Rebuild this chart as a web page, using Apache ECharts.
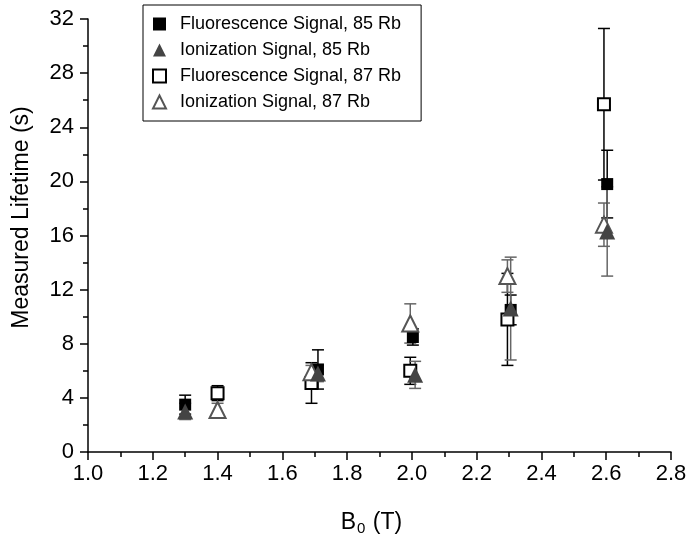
<!DOCTYPE html>
<html>
<head>
<meta charset="utf-8">
<script src="https://cdn.jsdelivr.net/npm/echarts@6/dist/echarts.min.js"></script>
<style>
  html, body { margin: 0; padding: 0; background: #fff; }
  #chart-container { width: 688px; height: 537px; }
</style>
</head>
<body>
<div id="chart-container"></div>
<script>
// [B0, lifetime, error]
var fluor85 = [[1.30, 3.5, 0.7], [1.71, 6.1, 1.45], [2.003, 8.5, 0.6], [2.305, 10.5, 1.1], [2.603, 19.8, 2.5]];
var ioniz85 = [[1.30, 3.0, 0.6], [1.71, 5.8, 0.6], [2.01, 5.7, 1.0], [2.305, 10.6, 3.8], [2.603, 16.3, 3.3]];
var fluor87 = [[1.40, 4.35, 0.55], [1.69, 5.1, 1.5], [1.995, 6.0, 1.0], [2.295, 9.8, 3.4], [2.593, 25.7, 5.6]];
var ioniz87 = [[1.40, 3.1, 0.5], [1.69, 5.9, 0.5], [1.995, 9.5, 1.45], [2.295, 13.0, 1.2], [2.593, 16.8, 1.6]];
var seriesNames = ["Fluorescence Signal, 85 Rb", "Ionization Signal, 85 Rb",
                   "Fluorescence Signal, 87 Rb", "Ionization Signal, 87 Rb"];

var dom = document.getElementById("chart-container");
var myChart = echarts.init(dom, null, { renderer: "canvas" });

function errorBars(data, color, z) {
  return {
    type: "custom",
    data: data,
    z: z,
    silent: true,
    renderItem: function (params, api) {
      var x = api.value(0), y = api.value(1), e = api.value(2);
      var top = api.coord([x, y + e]);
      var bot = api.coord([x, y - e]);
      var hw = 6;
      var st = { stroke: color, lineWidth: 1.5 };
      return {
        type: "group",
        children: [
          { type: "line", shape: { x1: top[0], y1: top[1], x2: bot[0], y2: bot[1] }, style: st },
          { type: "line", shape: { x1: top[0] - hw, y1: top[1], x2: top[0] + hw, y2: top[1] }, style: st },
          { type: "line", shape: { x1: bot[0] - hw, y1: bot[1], x2: bot[0] + hw, y2: bot[1] }, style: st }
        ]
      };
    }
  };
}

var option = {
  animation: false,
  backgroundColor: "#fff",
  grid: { left: 88, right: 17, top: 19, bottom: 85, containLabel: false, outerBoundsMode: "none" },
  legend: {
    orient: "vertical",
    left: 143,
    top: 5,
    itemWidth: 13,
    itemHeight: 13,
    itemGap: 8,
    padding: [10, 20, 10, 9],
    borderColor: "#000",
    borderWidth: 1,
    backgroundColor: "#fff",
    formatter: function (name) { return "{t|" + name + "}"; },
    textStyle: {
      fontFamily: "Liberation Sans", fontSize: 18, color: "#000",
      rich: { t: { fontFamily: "Liberation Sans", fontSize: 18, color: "#000", padding: [0, 0, 0, 9] } }
    },
    data: seriesNames
  },
  xAxis: {
    type: "value",
    min: 1.0,
    max: 2.8,
    interval: 0.2,
    name: "{a|B}{s|0}{a| (T)}",
    nameLocation: "middle",
    nameGap: 57,
    nameTextStyle: {
      padding: [0, 16, 0, 0],
      rich: {
        a: { fontFamily: "Liberation Sans", fontSize: 23, color: "#000" },
        s: { fontFamily: "Liberation Sans", fontSize: 15, color: "#000", verticalAlign: "bottom", padding: [12, 1, 0, 1] }
      }
    },
    axisLine: { lineStyle: { color: "#000", width: 1.5 } },
    axisTick: { inside: false, length: 8, lineStyle: { color: "#000", width: 1.5 } },
    minorTick: { show: true, splitNumber: 2, length: 5, lineStyle: { color: "#000", width: 1.5 } },
    axisLabel: {
      fontFamily: "Liberation Sans", fontSize: 22, color: "#000", margin: 11,
      formatter: function (v) { return v.toFixed(1); }
    },
    splitLine: { show: false }
  },
  yAxis: {
    type: "value",
    min: 0,
    max: 32,
    interval: 4,
    name: "Measured Lifetime (s)",
    nameLocation: "middle",
    nameGap: 55,
    nameTextStyle: { fontFamily: "Liberation Sans", fontSize: 23, color: "#000", padding: [0, 0, 0, 36] },
    axisLine: { show: true, lineStyle: { color: "#000", width: 1.5 } },
    axisTick: { show: true, inside: false, length: 8, lineStyle: { color: "#000", width: 1.5 } },
    minorTick: { show: true, splitNumber: 2, length: 5, lineStyle: { color: "#000", width: 1.5 } },
    axisLabel: { fontFamily: "Liberation Sans", fontSize: 22, color: "#000", margin: 14 },
    splitLine: { show: false }
  },
  series: [
    errorBars(fluor87, "#000", 1),
    errorBars(ioniz87, "#666", 1),
    errorBars(fluor85, "#000", 1),
    errorBars(ioniz85, "#666", 1),
    {
      name: seriesNames[0], type: "scatter", data: fluor85, z: 3,
      symbol: "rect", symbolSize: 12,
      itemStyle: { color: "#000", opacity: 1 }
    },
    {
      name: seriesNames[1], type: "scatter", data: ioniz85, z: 4,
      symbol: "triangle", symbolSize: 16,
      itemStyle: { color: "#444", opacity: 1 }
    },
    {
      name: seriesNames[2], type: "scatter", data: fluor87, z: 3,
      symbol: "rect", symbolSize: 12,
      itemStyle: { color: "#fff", borderColor: "#000", borderWidth: 2, opacity: 1 }
    },
    {
      name: seriesNames[3], type: "scatter", data: ioniz87, z: 3,
      symbol: "triangle", symbolSize: 16,
      itemStyle: { color: "#fff", borderColor: "#555", borderWidth: 2, opacity: 1 }
    }
  ]
};

myChart.setOption(option);
window.addEventListener("resize", myChart.resize);
</script>
</body>
</html>
